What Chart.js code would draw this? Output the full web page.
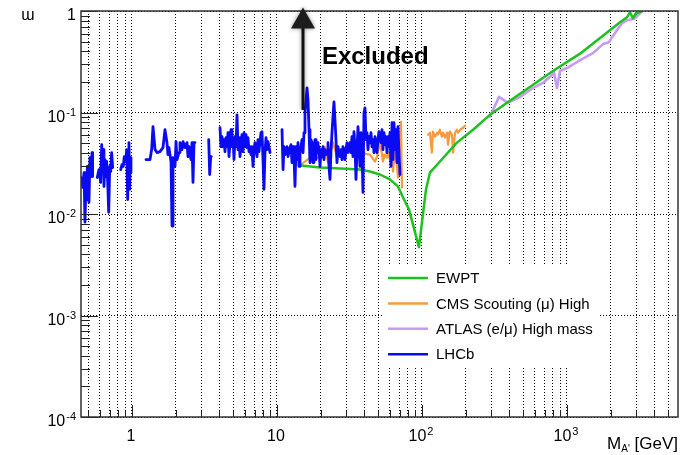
<!DOCTYPE html>
<html>
<head>
<meta charset="utf-8">
<title>Dark photon limits</title>
<script src="https://cdn.jsdelivr.net/npm/chart.js@4.4.1/dist/chart.umd.min.js"></script>
<style>
  html, body { margin: 0; padding: 0; background: #fff; }
  canvas { display: block; }
</style>
</head>
<body>
<canvas id="limitChart" width="689" height="455"></canvas>
<script>
// Limits vs. mass [GeV]; null marks a break in a curve
const ewptMass = [14.6, 19.8, 27.2, 37.4, 43.8, 51.3, 60.1, 68.3, 73.9, 81.3, 95.3, 106.6, 113.5, 133, 174, 225, 294, 392, 497, 800, 1230, 2322, 2594, 2718, 2851, 2990, 3137, 3290];
const ewptLimit = [0.0300, 0.0287, 0.0281, 0.0274, 0.0262, 0.0245, 0.0219, 0.0187, 0.0146, 0.0111, 0.00472, 0.0175, 0.0256, 0.0329, 0.0505, 0.0676, 0.0948, 0.127, 0.160, 0.256, 0.380, 0.775, 0.867, 0.971, 0.848, 0.950, 0.970, 1.0];

const cmsMass = [14.4, 15.6, 16.9, 20.8, 21.4, 22.5, 24.3, 25.9, 28.5, 30.9, 34.5, 35.6, 43.8, 47.4, 48.9, 51.3, 53.0, 53.8, 55.6, 57.4, 58.3, 60.1, 62.1, 63.1, 65.2, 67.3, 68.3, 71.6, 72.8,
  90,
  110, 113.5, 117, 119, 123, 127, 129, 133, 137, 140, 144, 149, 151, 156, 161, 164, 169, 174, 177, 183, 192, 198];
const cmsLimit = [0.0300, 0.0329, 0.0360, 0.0360, 0.0461, 0.0321, 0.0505, 0.0368, 0.0403, 0.0412, 0.0431, 0.0403, 0.0385, 0.0329, 0.0368, 0.0505, 0.0385, 0.0329, 0.0385, 0.0360, 0.0412, 0.0344, 0.0461, 0.0262, 0.0451, 0.0294, 0.0229, 0.0811, 0.0183,
  null,
  0.0604, 0.0632, 0.0403, 0.0647, 0.0578, 0.0632, 0.0604, 0.0676, 0.0578, 0.0632, 0.0565, 0.0632, 0.0482, 0.0647, 0.0604, 0.0403, 0.0632, 0.0676, 0.0632, 0.0676, 0.0708, 0.0741];

const atlasMass = [294, 340, 392, 474, 583, 683, 788, 813, 853, 895, 1000, 1230, 1512, 1772, 1950, 2043, 2213, 2396, 2594, 2806, 2943, 3087, 3290];
const atlasLimit = [0.0907, 0.1426, 0.1245, 0.1426, 0.1747, 0.1955, 0.2343, 0.2506, 0.1747, 0.2564, 0.2742, 0.3286, 0.3848, 0.4719, 0.4933, 0.5522, 0.6469, 0.7576, 0.8105, 0.829, 0.848, 0.907, 0.993];

const lhcbMass = [
  0.445, 0.457, 0.467, 0.474, 0.482, 0.487, 0.492, 0.499, 0.505, 0.513, 0.521, 0.530, 0.535,
  0.55,
  0.576, 0.592, 0.608, 0.618, 0.628, 0.634, 0.641, 0.651, 0.662, 0.669, 0.680, 0.691, 0.702, 0.713, 0.724, 0.736,
  0.78,
  0.836, 0.853, 0.871, 0.885, 0.905, 0.919, 0.934, 0.943, 0.953, 0.964, 0.973, 0.984,
  1.1,
  1.249, 1.331, 1.367, 1.396, 1.442, 1.487, 1.560, 1.636, 1.689, 1.743, 1.771, 1.799, 1.858, 1.888, 1.918, 1.980,
  2.012, 2.044, 2.110, 2.143, 2.213, 2.249, 2.321, 2.396, 2.434, 2.473, 2.553, 2.594, 2.635, 2.677, 2.720,
  3.0,
  3.381, 3.435, 3.490, 3.524,
  3.8,
  4.045, 4.110, 4.176, 4.243, 4.311, 4.380, 4.450, 4.521, 4.594, 4.667, 4.742, 4.818, 4.895, 4.974, 5.053, 5.134,
  5.217, 5.300, 5.385, 5.472, 5.557, 5.646, 5.737, 5.829, 5.922, 6.017, 6.113, 6.211, 6.311, 6.412, 6.513, 6.617,
  6.723, 6.831, 6.940, 7.051, 7.279, 7.395, 7.514, 7.756, 7.880, 8.007, 8.135, 8.265, 8.398, 8.532, 8.669, 8.808, 8.948,
  9.8,
  10.83, 11.01, 11.18, 11.36, 11.73, 11.92, 12.29, 12.49, 12.69, 12.90, 13.10, 13.31, 13.53, 13.74, 13.96, 14.19,
  14.41, 14.64, 14.88, 15.12, 15.36, 15.60, 16.11, 16.37, 16.63, 16.89, 17.16, 17.44, 17.72, 18.00, 18.29, 18.58,
  18.88, 19.18, 19.49, 19.80, 20.12, 20.44, 20.77, 21.10, 21.44, 21.78, 22.13, 22.48, 22.84, 23.20, 23.57, 23.95,
  24.33, 24.72, 25.12, 25.52, 25.93, 26.34, 26.77, 27.20, 27.63, 28.07, 28.52, 28.98, 29.44, 29.91, 30.39, 30.88,
  31.87, 32.38, 32.90, 33.43, 33.96, 34.51, 35.06, 35.62, 36.19, 36.77, 37.36, 37.96, 38.57, 39.18, 39.81, 40.45,
  41.10, 41.75, 42.42, 43.10, 43.79, 44.49, 45.20, 45.93, 46.66, 47.41, 48.17, 48.94, 49.72, 50.52, 51.33, 52.15,
  52.99, 53.83, 54.70, 55.57, 56.46, 57.37, 58.29, 59.22, 60.16, 61.13, 62.11, 63.10, 64.11, 65.14, 66.18, 67.24,
  68.31, 69.41, 70.51
];
const lhcbLimit = [
  0.0229, 0.0183, 0.0256, 0.0083, 0.0219, 0.0139, 0.0294, 0.0205, 0.0130, 0.0360, 0.0234, 0.0403, 0.0234,
  null,
  0.0229, 0.0274, 0.0205, 0.0482, 0.0294, 0.0431, 0.0187, 0.0344, 0.0234, 0.0329, 0.0205, 0.0104, 0.0294, 0.0262, 0.0403, 0.0287,
  null,
  0.0274, 0.0307, 0.0294, 0.0368, 0.0329, 0.0431, 0.0139, 0.0368, 0.0505, 0.0175, 0.0360, 0.0256,
  null,
  0.0344, 0.0344, 0.0431, 0.0724, 0.0431, 0.0403, 0.0412, 0.0451, 0.0676, 0.0505, 0.0385, 0.0451, 0.0329, 0.0076, 0.0360, 0.0294,
  0.0516, 0.0344, 0.0403, 0.0505, 0.0431, 0.0516, 0.0451, 0.0505, 0.0368, 0.0461, 0.0344, 0.0505, 0.0205, 0.0505, 0.0505,
  null,
  0.0540, 0.0245, 0.0368, 0.0368,
  null,
  0.0708, 0.0461, 0.0578, 0.0461, 0.0540, 0.0412, 0.0565, 0.0461, 0.0632, 0.0368, 0.0505, 0.0676, 0.0461, 0.0565, 0.0344, 0.0578,
  0.0461, 0.0949, 0.0431, 0.0565, 0.0368, 0.0482, 0.0604, 0.0412, 0.0632, 0.0461, 0.0604, 0.0451, 0.0565, 0.0412, 0.0461, 0.0385,
  0.0461, 0.0294, 0.0431, 0.0505, 0.0368, 0.0540, 0.0412, 0.0632, 0.0647, 0.0344, 0.0175, 0.0403, 0.0565, 0.0431, 0.0516, 0.0461, 0.0403,
  null,
  0.0676, 0.0274, 0.0461, 0.0385, 0.0461, 0.0368, 0.0451, 0.0482, 0.0321, 0.0461, 0.0368, 0.0187, 0.0461, 0.0344, 0.0505, 0.0294,
  0.0403, 0.0461, 0.0540, 0.0403, 0.0632, 0.0993, 0.175, 0.133, 0.0676, 0.0321, 0.0540, 0.0505, 0.0321, 0.0431, 0.0540, 0.0344,
  0.0505, 0.0403, 0.0461, 0.0294, 0.0431, 0.0368, 0.0461, 0.0344, 0.0431, 0.0385, 0.0412, 0.0505, 0.0294, 0.0219, 0.0412, 0.0632,
  0.0907, 0.127, 0.0848, 0.0540, 0.0321, 0.0461, 0.0403, 0.0368, 0.0431, 0.0344, 0.0461, 0.0431, 0.0344, 0.0431, 0.0505, 0.0403,
  0.0505, 0.0403, 0.0578, 0.0368, 0.0647, 0.0461, 0.0219, 0.0403, 0.0724, 0.0505, 0.0294, 0.0632, 0.0431, 0.0163, 0.0993, 0.111,
  0.0540, 0.0632, 0.0431, 0.0578, 0.0505, 0.0632, 0.0461, 0.0540, 0.0403, 0.0578, 0.0505, 0.0403, 0.0540, 0.0647, 0.0578, 0.0505,
  0.0676, 0.0431, 0.0632, 0.0482, 0.0578, 0.0403, 0.0578, 0.0461, 0.0632, 0.0294, 0.0793, 0.0344, 0.0793, 0.0431, 0.0676, 0.0321,
  0.0724, 0.0403, 0.0245
];

// Axis ranges and tick positions
const xRange = [0.445, 5830];
const yRange = [1e-4, 1];
const xTickValues = [0.5, 0.6, 0.7, 0.8, 0.9, 1, 2, 3, 4, 5, 6, 7, 8, 9, 10, 20, 30, 40, 50, 60, 70, 80, 90,
  100, 200, 300, 400, 500, 600, 700, 800, 900, 1000, 2000, 3000, 4000, 5000];
const yTickValues = [1e-4, 2e-4, 3e-4, 4e-4, 5e-4, 6e-4, 7e-4, 8e-4, 9e-4, 1e-3, 2e-3, 3e-3, 4e-3, 5e-3, 6e-3, 7e-3, 8e-3, 9e-3,
  0.01, 0.02, 0.03, 0.04, 0.05, 0.06, 0.07, 0.08, 0.09, 0.1, 0.2, 0.3, 0.4, 0.5, 0.6, 0.7, 0.8, 0.9, 1];
const xLabelValues = [1, 10, 100, 1000];
const yLabelValues = [1, 0.1, 0.01, 0.001, 0.0001];

const FONT = "'Liberation Sans', Arial, Helvetica, sans-serif";
const GRID_COLOR = '#000';

function toPoints(masses, limits) {
  return masses.map((m, i) => ({ x: m, y: limits[i] }));
}

function isDecade(v) {
  const e = Math.log10(v);
  return Math.abs(e - Math.round(e)) < 1e-6;
}

// "1", "10" or 10 with a raised exponent, like ROOT prints them
function powerParts(v) {
  const e = Math.round(Math.log10(v));
  if (e === 0) return { base: '1', exp: '' };
  if (e === 1) return { base: '10', exp: '' };
  return { base: '10', exp: String(e) };
}

function drawPower(ctx, v, x, y, align) {
  const p = powerParts(v);
  ctx.font = '16px ' + FONT;
  const wb = ctx.measureText(p.base).width;
  ctx.font = '11px ' + FONT;
  const we = p.exp ? ctx.measureText(p.exp).width + 1 : 0;
  const w = wb + we;
  const left = align === 'right' ? x - w : x - w / 2;
  ctx.textAlign = 'left';
  ctx.textBaseline = 'alphabetic';
  ctx.font = '16px ' + FONT;
  ctx.fillText(p.base, left, y);
  if (p.exp) {
    ctx.font = '11px ' + FONT;
    ctx.fillText(p.exp, left + wb + 1, y - 6);
  }
}

const overlay = {
  id: 'overlay',
  afterDatasetsDraw(chart) {
    const { ctx, chartArea: area, scales } = chart;
    const xs = scales.x, ys = scales.y;
    ctx.save();

    // legend background hides the grid behind it
    const lg = { x: 383, y: 264, w: 215, h: 102, line: 40, row: 25.4, first: 278 };
    ctx.fillStyle = '#fff';
    ctx.fillRect(lg.x, lg.y, lg.w, lg.h);
    chart.data.datasets.slice().sort((a, b) => a.legendRank - b.legendRank).forEach((ds, i) => {
      const yy = lg.first + i * lg.row;
      ctx.strokeStyle = ds.borderColor;
      ctx.lineWidth = 2.5;
      ctx.beginPath();
      ctx.moveTo(lg.x + 5, yy);
      ctx.lineTo(lg.x + 5 + lg.line, yy);
      ctx.stroke();
      ctx.fillStyle = '#000';
      ctx.font = '15px ' + FONT;
      ctx.textAlign = 'left';
      ctx.textBaseline = 'middle';
      ctx.fillText(ds.label, lg.x + 53, yy + 1);
    });

    // inward tick marks
    ctx.strokeStyle = '#222';
    ctx.lineWidth = 1;
    ctx.beginPath();
    yTickValues.forEach(v => {
      const py = Math.round(ys.getPixelForValue(v)) + 0.5;
      const len = isDecade(v) ? 17 : 9;
      ctx.moveTo(area.left, py);
      ctx.lineTo(area.left + len, py);
    });
    xTickValues.forEach(v => {
      const px = Math.round(xs.getPixelForValue(v)) + 0.5;
      const len = isDecade(v) ? 12 : 7;
      ctx.moveTo(px, area.bottom);
      ctx.lineTo(px, area.bottom - len);
    });
    ctx.stroke();

    // frame
    ctx.strokeStyle = '#333';
    ctx.lineWidth = 1.5;
    ctx.strokeRect(area.left, area.top, area.right - area.left, area.bottom - area.top);

    // tick labels
    ctx.fillStyle = '#000';
    yLabelValues.forEach(v => {
      drawPower(ctx, v, area.left - 5, ys.getPixelForValue(v) + 9, 'right');
    });
    xLabelValues.forEach(v => {
      drawPower(ctx, v, xs.getPixelForValue(v) - 1, area.bottom + 24, 'center');
    });

    // axis titles
    ctx.textBaseline = 'alphabetic';
    ctx.font = '17px ' + FONT;
    const tail = ' [GeV]';
    const wTail = ctx.measureText(tail).width;
    const wM = ctx.measureText('M').width;
    ctx.font = '10px ' + FONT;
    const wSub = ctx.measureText("A'").width;
    const tx = area.right - wTail - wSub - wM;
    ctx.font = '17px ' + FONT;
    ctx.textAlign = 'left';
    ctx.fillText('M', tx, 449);
    ctx.font = '10px ' + FONT;
    ctx.fillText("A'", tx + wM, 452);
    ctx.font = '17px ' + FONT;
    ctx.fillText(tail, tx + wM + wSub, 449);

    ctx.font = '16px ' + FONT;
    ctx.textAlign = 'center';
    ctx.fillText('\u026F', 28, 20);

    // arrow pointing to the excluded region
    const ax = Math.round(xs.getPixelForValue(15.1));
    const tipY = ys.getPixelForValue(1.08);
    const baseY = ys.getPixelForValue(0.106);
    ctx.shadowColor = 'rgba(0,0,0,0.45)';
    ctx.shadowBlur = 4;
    ctx.strokeStyle = '#111';
    ctx.lineWidth = 3;
    ctx.beginPath();
    ctx.moveTo(ax, baseY);
    ctx.lineTo(ax, tipY + 18);
    ctx.stroke();
    ctx.fillStyle = '#1c1c1c';
    ctx.beginPath();
    ctx.moveTo(ax, tipY);
    ctx.lineTo(ax - 12, tipY + 21);
    ctx.lineTo(ax + 12, tipY + 21);
    ctx.closePath();
    ctx.fill();
    ctx.shadowBlur = 0;
    ctx.shadowColor = 'transparent';

    ctx.fillStyle = '#000';
    ctx.font = 'bold 24px ' + FONT;
    ctx.textAlign = 'left';
    ctx.fillText('Excluded', xs.getPixelForValue(20.4), ys.getPixelForValue(0.30));

    ctx.restore();
  }
};

const ctx = document.getElementById('limitChart').getContext('2d');

new Chart(ctx, {
  type: 'line',
  data: {
    datasets: [
      { label: 'LHCb', legendRank: 3, data: toPoints(lhcbMass, lhcbLimit), borderColor: '#0a0af5', borderWidth: 2.8, order: 0 },
      { label: 'EWPT', legendRank: 0, data: toPoints(ewptMass, ewptLimit), borderColor: '#1ec21e', borderWidth: 2.5, order: 1 },
      { label: 'CMS Scouting (\u03BC) High', legendRank: 1, data: toPoints(cmsMass, cmsLimit), borderColor: '#f99a3e', borderWidth: 2.2, order: 2 },
      { label: 'ATLAS (e/\u03BC) High mass', legendRank: 2, data: toPoints(atlasMass, atlasLimit), borderColor: '#c59cf2', borderWidth: 2.6, order: 3 }
    ]
  },
  options: {
    responsive: false,
    animation: false,
    devicePixelRatio: 1,
    spanGaps: false,
    layout: { padding: { left: 81, top: 11, right: 11, bottom: 38 } },
    plugins: { legend: { display: false }, tooltip: { enabled: false } },
    elements: {
      point: { radius: 0 },
      line: { tension: 0, borderJoinStyle: 'round', borderCapStyle: 'round' }
    },
    scales: {
      x: {
        type: 'logarithmic',
        min: xRange[0],
        max: xRange[1],
        afterBuildTicks: axis => { axis.ticks = xTickValues.map(v => ({ value: v })); },
        ticks: { display: false },
        grid: { drawTicks: false, color: GRID_COLOR, lineWidth: 1 },
        border: { display: false, dash: [1, 2] }
      },
      y: {
        type: 'logarithmic',
        min: yRange[0],
        max: yRange[1],
        afterBuildTicks: axis => { axis.ticks = yTickValues.map(v => ({ value: v })); },
        ticks: { display: false },
        grid: {
          drawTicks: false,
          lineWidth: 1,
          color: c => (c.tick && isDecade(c.tick.value)) ? GRID_COLOR : 'rgba(0,0,0,0)'
        },
        border: { display: false, dash: [1, 2] }
      }
    }
  },
  plugins: [overlay]
});
</script>
</body>
</html>
